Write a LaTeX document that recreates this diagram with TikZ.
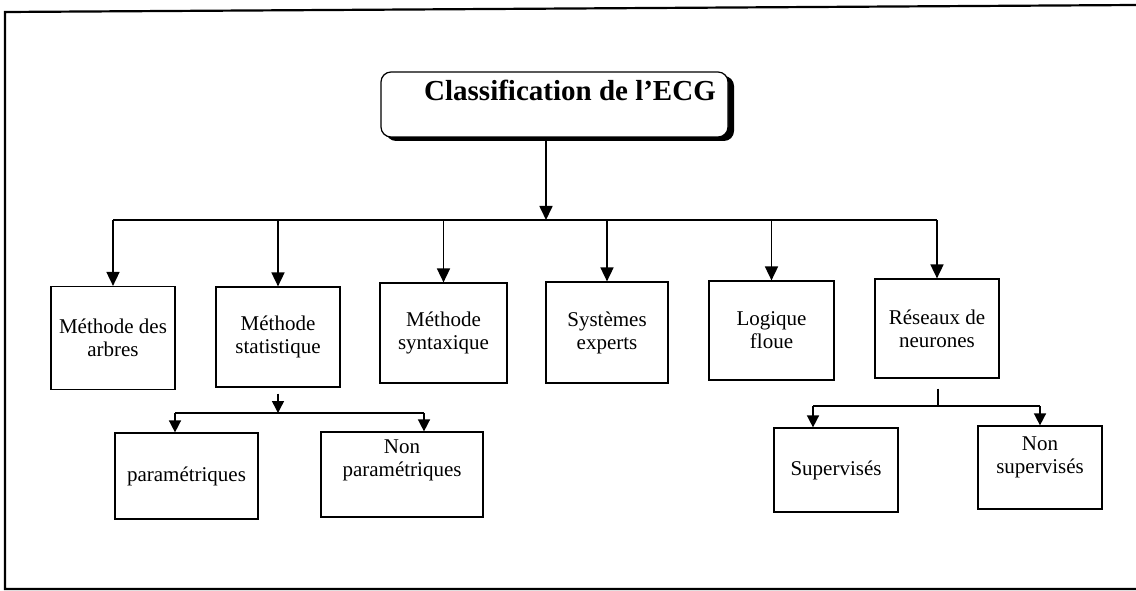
\documentclass[tikz,border=0pt]{standalone}
\usepackage{fontspec}
\setmainfont{Liberation Serif}
\usetikzlibrary{arrows.meta}
\begin{document}
\begin{tikzpicture}[x=1pt,y=-1pt,
  box/.style={draw, line width=1.2pt, inner sep=0pt, align=center,
              font=\fontsize{21}{23}\selectfont},
  lbl/.style={align=center, inner sep=0pt, font=\fontsize{21}{23}\selectfont},
  arr/.style={line width=1.7pt, -{Triangle[length=14pt,width=13pt]}},
  subarr/.style={line width=1.5pt, -{Triangle[length=12pt,width=12pt]}},
  link/.style={line width=1.6pt},
]
\useasboundingbox (0,0) rectangle (1136,591);

% outer frame
\draw[line width=2.2pt] (1136,5) -- (5,12) -- (5,589) -- (1136,589);

% title box with its dark shadow
\fill[rounded corners=10pt] (386,76) rectangle (734,141);
\node[draw, fill=white, line width=1.2pt, rounded corners=10pt,
      minimum width=347pt, minimum height=65pt, inner sep=0pt] (title) at (554.5,104.5) {};
\node[font=\bfseries\fontsize{29}{32}\selectfont, inner sep=0pt] (ttltxt) at (570,90)
      {Classification de l’ECG};

% first level
\node[box, minimum width=124pt, minimum height=103pt] (b1) at (113,338) {Méthode des\\arbres};
\node[box, minimum width=124pt, minimum height=100pt] (b2) at (278,337) {Méthode\\statistique};
\node[box, minimum width=127pt, minimum height=100pt] (b3) at (443.5,333) {Méthode\\syntaxique};
\node[box, minimum width=122pt, minimum height=101pt] (b4) at (607,332.5) {Systèmes\\experts};
\node[box, minimum width=125pt, minimum height=99pt]  (b5) at (771.5,330.5) {Logique\\floue};
\node[box, minimum width=124pt, minimum height=99pt]  (b6) at (937,328.5) {Réseaux de\\neurones};

% second level
\node[box, minimum width=143pt, minimum height=86pt] (p1) at (186.5,476) {paramétriques};
\node[box, minimum width=162pt, minimum height=85pt] (p2) at (402,474.5) {};
\node[lbl] (p2txt) at (402,460) {Non\\paramétriques};
\node[box, minimum width=124pt, minimum height=84pt] (s1) at (836,470) {Supervisés};
\node[box, minimum width=124pt, minimum height=83pt] (s2) at (1040,467.5) {};
\node[lbl] (s2txt) at (1040,457) {Non\\supervisés};

% main distribution
\coordinate (bus) at (546,220);
\draw[arr] (title.south -| bus) -- (bus);
\draw[link] (b1.north |- bus) -- (b6.north |- bus);
\foreach \b in {b1,b2,b3,b4,b5,b6}
  \draw[arr] (\b.north |- bus) -- (\b.north);

% statistical methods
\coordinate (sb) at (278,413);
\coordinate (sbl) at (175,413);
\coordinate (sbr) at (424,413);
\draw[subarr] ([yshift=-6pt]b2.south) -- (sb);
\draw[link] (sbl) -- (sbr);
\draw[subarr] (sbl) -- (sbl |- p1.north);
\draw[subarr] (sbr) -- (sbr |- p2.north);

% neural networks
\coordinate (rb) at (938,406);
\coordinate (rbl) at (813,406);
\coordinate (rbr) at (1040,406);
\draw[link] ([yshift=-10pt]b6.south -| rb) -- (rb);
\draw[link] (rbl) -- (rbr);
\draw[subarr] (rbl) -- (rbl |- s1.north);
\draw[subarr] (rbr) -- (rbr |- s2.north);
\end{tikzpicture}
\end{document}
